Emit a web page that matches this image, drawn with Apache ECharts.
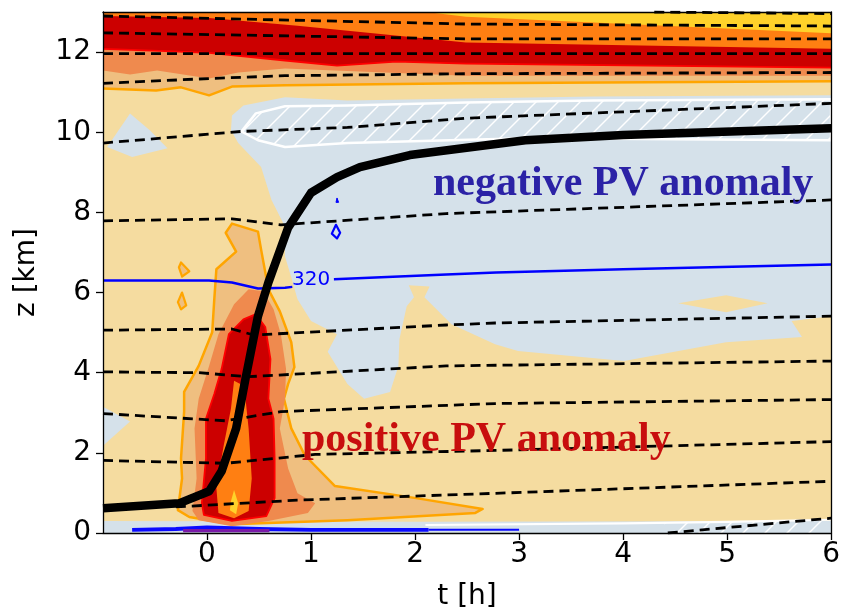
<!DOCTYPE html>
<html>
<head>
<meta charset="utf-8">
<script src="https://cdn.jsdelivr.net/npm/echarts@6/dist/echarts.min.js"></script>
<style>
  html, body { margin: 0; padding: 0; background: #fff; }
  #chart { width: 843px; height: 616px; }
</style>
</head>
<body>
<div id="chart"></div>
<script>
// ---------- axes ----------
const timeTicks = [0, 1, 2, 3, 4, 5, 6];
const heightTicks = [0, 2, 4, 6, 8, 10, 12];

// ---------- tropopause-level PV bands: lower edges, [t (h), z (km)] ----------
const bandLightOrangeEdge = [[-1, 11.09], [-0.49, 11.04], [-0.25, 11.12], [0.02, 10.92], [0.24, 11.14], [0.75, 11.17], [2.49, 11.22], [6, 11.27]];
const bandSalmonEdge = [[-1, 11.54], [-0.74, 11.44], [-0.48, 11.54], [0.02, 11.34], [0.30, 11.49], [0.75, 11.59], [2.49, 11.41], [6, 11.41]];
const bandRedEdge = [[-1, 12.08], [-0.46, 12.03], [0.02, 11.98], [0.75, 11.79], [1.25, 11.66], [1.82, 11.76], [2.49, 11.71], [6, 11.61]];
const bandOrangeEdge = [[-1, 12.90], [0.02, 12.85], [0.87, 12.66], [2.49, 12.24], [6, 12.08]];
const bandYellowEdge = [[2.11, 13], [2.49, 12.88], [6, 12.47]];

// ---------- negative PV anomaly ----------
const negMain = [
  [0.24, 10.42], [0.35, 10.67], [0.75, 10.87], [1.35, 10.79], [2.49, 10.84], [3.72, 10.89], [6, 10.92],
  [6, 5.41], [5.62, 5.29], [5.72, 4.89], [4.99, 4.76], [4.01, 4.29], [2.99, 4.54], [2.77, 4.71],
  [2.35, 5.21], [2.09, 5.88], [2.14, 6.15], [1.94, 6.18], [1.99, 5.88], [1.92, 5.66], [1.85, 4.84],
  [1.84, 4.17], [1.76, 3.52], [1.51, 3.35], [1.35, 3.72], [1.16, 4.52], [1.25, 4.96], [1.0, 5.29],
  [0.87, 5.83], [0.81, 6.38], [0.75, 6.90], [0.75, 7.64], [0.62, 8.31], [0.52, 9.13], [0.30, 9.73], [0.23, 10.05]
];
const negHole = [[4.53, 5.73], [4.99, 5.93], [5.39, 5.73], [4.99, 5.51]];
const negUpperWest = [[-0.96, 9.63], [-0.74, 10.47], [-0.55, 10.05], [-0.38, 9.60], [-0.72, 9.38]];
const negLowerWest = [[-1, 3.15], [-0.74, 2.78], [-1, 2.18]];
const negSurface = [[-1, 0], [6, 0], [6, 0.30], [2, 0.28], [-1, 0.30]];
const hatchUpper = [
  [0.33, 10.02], [0.47, 10.47], [0.75, 10.65], [1.35, 10.67], [2.49, 10.74], [3.72, 10.79], [6, 10.82],
  [6, 9.80], [3.06, 9.85], [1.35, 9.73], [0.75, 9.63], [0.49, 9.80]
];
const hatchSurface = [[4.4, 0], [6, 0], [6, 0.32], [4.4, 0.26]];

// ---------- positive PV anomaly (tower) ----------
const posOuter = [
  [0.24, 7.72], [0.49, 7.52], [0.52, 7.07], [0.59, 6.08], [0.70, 5.53], [0.81, 4.76], [0.84, 4.14],
  [0.78, 3.72], [0.74, 3.35], [0.81, 2.61], [0.94, 1.94], [1.23, 1.17], [2.01, 0.87], [2.65, 0.60],
  [2.58, 0.50], [1.35, 0.32], [0.24, 0.22], [-0.17, 0.40], [-0.28, 0.57], [-0.24, 1.36], [-0.25, 1.86],
  [-0.22, 3.03], [-0.22, 3.52], [-0.08, 4.17], [0.05, 5.01], [0.07, 5.83], [0.09, 6.58], [0.28, 7.02], [0.18, 7.49]
];
const posIslandA = [[-0.25, 6.75], [-0.17, 6.53], [-0.24, 6.40], [-0.27, 6.63]];
const posIslandB = [[-0.24, 6.0], [-0.20, 5.68], [-0.25, 5.58], [-0.28, 5.76]];
const posSalmon = [
  [0.40, 6.08], [0.54, 6.03], [0.64, 5.58], [0.71, 4.96], [0.76, 4.09], [0.75, 3.35], [0.70, 2.61],
  [0.78, 1.61], [0.87, 0.99], [1.04, 0.74], [0.97, 0.50], [0.59, 0.30], [0.24, 0.17], [-0.08, 0.32],
  [-0.14, 0.55], [-0.10, 1.36], [-0.12, 2.61], [-0.08, 3.35], [0.02, 4.17], [0.11, 4.96], [0.26, 5.71]
];
const posRed = [
  [0.47, 5.46], [0.56, 5.14], [0.61, 4.34], [0.59, 3.35], [0.64, 2.85], [0.65, 1.86], [0.65, 0.87],
  [0.57, 0.42], [0.24, 0.30], [-0.03, 0.45], [-0.05, 0.74], [-0.01, 1.86], [-0.01, 2.85], [0.07, 3.47],
  [0.14, 4.09], [0.21, 4.96], [0.35, 5.33]
];
const posCore = [[0.26, 3.80], [0.32, 3.72], [0.37, 3.35], [0.40, 2.61], [0.43, 1.36], [0.40, 0.55], [0.26, 0.37], [0.11, 0.50], [0.09, 1.12], [0.16, 2.18], [0.23, 3.10]];
const posPeak = [[0.26, 1.07], [0.30, 0.74], [0.28, 0.47], [0.22, 0.57], [0.23, 0.79]];

// ---------- potential temperature isentropes (dashed) ----------
const thetaA = [[-1, 12.90], [2.49, 12.70], [6, 12.65]];
const thetaB = [[-1, 12.48], [2.49, 12.33], [6, 12.33]];
const thetaC = [[-1, 11.96], [2.5, 11.96], [6, 11.96]];
const thetaD = [[-1, 11.22], [0.02, 11.34], [0.75, 11.41], [2.49, 11.46], [6, 11.49]];
const thetaTop = [[4.3, 13.0], [6, 12.96]];
const thetaE = [[-1, 9.73], [0.33, 10.02], [1.35, 10.12], [2.49, 10.35], [6, 10.72]];
const thetaF = [[-1, 7.79], [0.24, 7.84], [0.71, 7.69], [2.3, 7.97], [6, 8.31]];
const thetaG = [[-1, 5.06], [0.24, 5.09], [0.45, 4.94], [2.3, 5.19], [2.77, 5.24], [6, 5.41]];
const thetaH = [[-1, 4.02], [-0.08, 4.0], [0.4, 3.9], [2.3, 4.17], [6, 4.29]];
const thetaI = [[-1, 2.98], [0.18, 2.80], [0.71, 3.03], [2.77, 3.23], [6, 3.33]];
const thetaJ = [[-1, 1.81], [0.18, 1.74], [1.04, 1.96], [2.77, 2.06], [6, 2.28]];
const thetaK = [[-0.3, 0.65], [0.87, 0.82], [2.77, 0.99], [6, 1.29]];
const thetaL = [[4.43, 0], [6, 0.37]];

// ---------- 320 K isentrope ----------
const theta320West = [[-1, 6.30], [0.02, 6.30], [0.24, 6.25], [0.49, 6.10], [0.75, 6.12], [0.82, 6.14]];
const theta320East = [[1.22, 6.33], [2.3, 6.45], [2.78, 6.50], [4, 6.58], [6, 6.70]];
const theta320Label = [1.0, 6.33];
const blueLoopA = [[1.24, 7.69], [1.28, 7.49], [1.25, 7.35], [1.20, 7.47]];
const blueLoopB = [[1.24, 8.25], [1.25, 8.36], [1.265, 8.25]];

// ---------- surface contours ----------
const surfBlue = [[-0.72, 0.08], [-0.3, 0.10], [0, 0.14], [0.5, 0.10], [1, 0.08], [2.13, 0.08]];
const surfBlueThin = [[2.13, 0.08], [3.0, 0.08]];
const surfPurple = [[-0.23, 0.06], [0.6, 0.06]];
const surfWhite = [[2.1, 0.20], [4, 0.24], [5, 0.28], [6, 0.33]];

// ---------- air-parcel trajectory ----------
const trajectory = [
  [-1, 0.62], [-0.27, 0.74], [0.02, 1.04], [0.14, 1.54], [0.28, 2.61], [0.37, 3.85], [0.49, 5.41],
  [0.59, 6.25], [0.78, 7.62], [1.0, 8.49], [1.25, 8.88], [1.47, 9.13], [1.95, 9.43], [3.06, 9.80],
  [4.0, 9.93], [6, 10.1]
];

// ---------- colours ----------
const TAN = '#f5dca0', LIGHTBLUE = '#d5e1ea', LIGHTORANGE = '#efbf80', SALMON = '#ef8a4e',
      DARKRED = '#cc0000', ORANGE = '#ff7f12', YELLOW = '#ffd22a';

// white diagonal hatch pattern
const hatch = document.createElement('canvas');
hatch.width = hatch.height = 22;
(function () {
  const g = hatch.getContext('2d');
  g.strokeStyle = '#ffffff';
  g.lineWidth = 1.4;
  [[-2, 24, 24, -2], [-2, 2, 2, -2], [20, 24, 24, 20]].forEach(function (s) {
    g.beginPath(); g.moveTo(s[0], s[1]); g.lineTo(s[2], s[3]); g.stroke();
  });
})();

function closeToTop(edge) {
  return edge.concat([[6, 13], [-1, 13]]);
}

function polygon(pts, style, z) {
  return {
    type: 'custom', coordinateSystem: 'cartesian2d', silent: true, z: z,
    data: pts,
    renderItem: function (params, api) {
      if (params.dataIndex !== 0) return null;
      return {
        type: 'polygon',
        shape: { points: pts.map(function (p) { return api.coord(p); }) },
        style: Object.assign({ stroke: null, lineJoin: 'round' }, style)
      };
    }
  };
}

function line(pts, color, width, type, z) {
  return {
    type: 'line', data: pts, showSymbol: false, symbol: 'none', silent: true, z: z,
    lineStyle: { color: color, width: width, type: type || 'solid', cap: 'butt', join: 'round' },
    animation: false
  };
}

const series = [
  // upper-level bands
  polygon(closeToTop(bandLightOrangeEdge), { fill: LIGHTORANGE }, 1),
  polygon(closeToTop(bandSalmonEdge), { fill: SALMON }, 1),
  polygon(closeToTop(bandRedEdge), { fill: DARKRED }, 1),
  polygon(closeToTop(bandOrangeEdge), { fill: ORANGE }, 1),
  polygon(bandYellowEdge.concat([[6, 13]]), { fill: YELLOW }, 1),
  line(bandLightOrangeEdge, '#ffa500', 2.5, 'solid', 2),
  line(bandRedEdge, '#ff0000', 1.8, 'solid', 2),

  // negative anomaly
  polygon(negMain, { fill: LIGHTBLUE }, 2),
  polygon(negHole, { fill: TAN }, 2),
  polygon(negUpperWest, { fill: LIGHTBLUE }, 2),
  polygon(negLowerWest, { fill: LIGHTBLUE }, 2),
  polygon(negSurface, { fill: LIGHTBLUE }, 2),
  polygon(hatchUpper, { fill: { image: hatch, repeat: 'repeat' }, stroke: '#ffffff', lineWidth: 2.5 }, 3),
  polygon(hatchSurface, { fill: { image: hatch, repeat: 'repeat' } }, 3),

  // positive anomaly
  polygon(posOuter, { fill: LIGHTORANGE, stroke: '#ffa500', lineWidth: 2.5 }, 4),
  polygon(posIslandA, { fill: LIGHTORANGE, stroke: '#ffa500', lineWidth: 2.2 }, 4),
  polygon(posIslandB, { fill: LIGHTORANGE, stroke: '#ffa500', lineWidth: 2.2 }, 4),
  polygon(posSalmon, { fill: SALMON }, 4),
  polygon(posRed, { fill: DARKRED, stroke: '#ff0000', lineWidth: 1.8 }, 4),
  polygon(posCore, { fill: ORANGE }, 4),
  polygon(posPeak, { fill: YELLOW }, 4),

  // surface contours
  line(surfWhite, '#ffffff', 2.2, 'solid', 5),
  line(surfBlue, '#0a0aff', 3.8, 'solid', 5),
  line(surfBlueThin, '#0a0aff', 2, 'solid', 5),
  line(surfPurple, '#7a1aa8', 3.2, 'solid', 5),

  // isentropes
  ...[thetaA, thetaB, thetaC, thetaD, thetaTop, thetaE, thetaF, thetaG, thetaH, thetaI, thetaJ, thetaK, thetaL]
    .map(function (d) { return line(d, '#000000', 2.8, [10, 6], 6); }),

  // 320 K
  line(theta320West, '#0000ff', 2.4, 'solid', 7),
  line(theta320East, '#0000ff', 2.4, 'solid', 7),
  polygon(blueLoopA, { fill: null, stroke: '#0000ff', lineWidth: 2.2 }, 7),
  polygon(blueLoopB, { fill: '#0000ff', stroke: '#0000ff', lineWidth: 1 }, 7),
  {
    type: 'custom', coordinateSystem: 'cartesian2d', silent: true, z: 7,
    data: [theta320Label],
    renderItem: function (params, api) {
      const p = api.coord([api.value(0), api.value(1)]);
      return {
        type: 'text', x: p[0], y: p[1],
        style: { text: '320', fill: '#0000ff', font: '20px "DejaVu Sans"', align: 'center', verticalAlign: 'middle' }
      };
    }
  },

  // trajectory
  line(trajectory, '#000000', 8.5, 'solid', 8)
];

const axisFont = { fontSize: 28, fontFamily: 'DejaVu Sans', color: '#000' };

const chart = echarts.init(document.getElementById('chart'), null, { renderer: 'canvas' });
chart.setOption({
  animation: false,
  backgroundColor: '#ffffff',
  grid: { left: 103, top: 12, width: 737, height: 523, show: true, backgroundColor: TAN, borderWidth: 0 },
  xAxis: [{
    type: 'value', min: -1, max: 6, interval: 1, position: 'bottom', z: 10,
    axisLine: { show: true, onZero: false, lineStyle: { color: '#000', width: 1.3 } },
    axisTick: { show: true, inside: false, length: 7, customValues: timeTicks, lineStyle: { color: '#000', width: 1.3 } },
    axisLabel: Object.assign({ customValues: timeTicks, margin: 8 }, axisFont),
    splitLine: { show: false },
    name: 't [h]', nameLocation: 'middle', nameGap: 50, nameTextStyle: axisFont
  }, {
    type: 'value', min: -1, max: 6, position: 'top', z: 10,
    axisLine: { show: true, onZero: false, lineStyle: { color: '#000', width: 1.3 } },
    axisTick: { show: false }, axisLabel: { show: false }, splitLine: { show: false }
  }],
  yAxis: [{
    type: 'value', min: 0, max: 13, interval: 2, position: 'left', z: 10,
    axisLine: { show: true, onZero: false, lineStyle: { color: '#000', width: 1.3 } },
    axisTick: { show: true, inside: false, length: 7, customValues: heightTicks, lineStyle: { color: '#000', width: 1.3 } },
    axisLabel: Object.assign({ customValues: heightTicks, margin: 12 }, axisFont),
    splitLine: { show: false },
    name: 'z [km]', nameLocation: 'middle', nameGap: 62, nameRotate: 90, nameTextStyle: axisFont
  }, {
    type: 'value', min: 0, max: 13, position: 'right', z: 10,
    axisLine: { show: true, onZero: false, lineStyle: { color: '#000', width: 1.3 } },
    axisTick: { show: false }, axisLabel: { show: false }, splitLine: { show: false }
  }],
  series: series,
  graphic: [
    { type: 'text', x: 433, y: 184, z: 50,
      style: { text: 'negative PV anomaly', fill: '#2b22a6', font: 'bold 42px "Liberation Serif"', align: 'left', verticalAlign: 'middle' } },
    { type: 'text', x: 302, y: 440, z: 50,
      style: { text: 'positive PV anomaly', fill: '#c80e0e', font: 'bold 42px "Liberation Serif"', align: 'left', verticalAlign: 'middle' } }
  ]
});
</script>
</body>
</html>
